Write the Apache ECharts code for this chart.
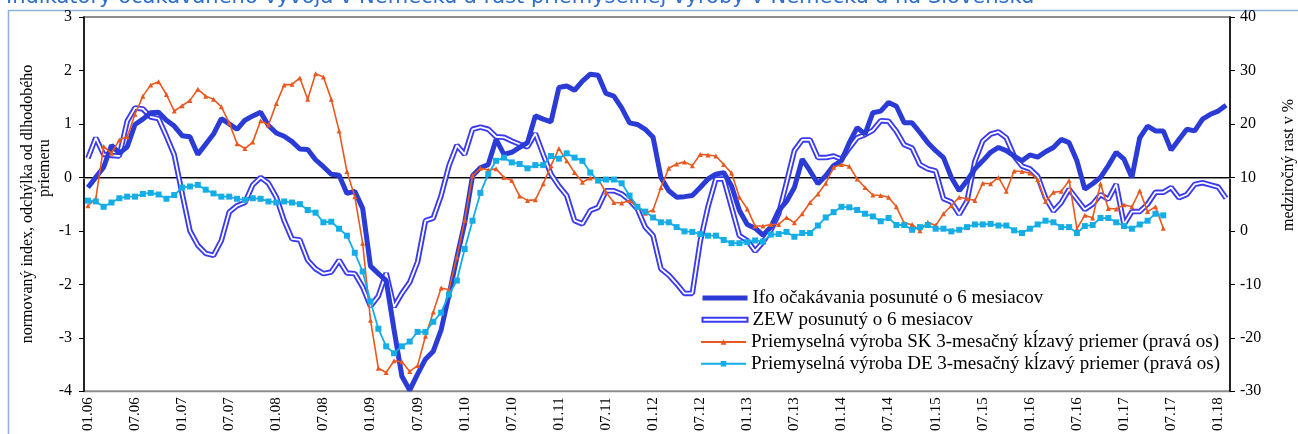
<!DOCTYPE html>
<html>
<head>
<meta charset="utf-8">
<title>Indikátory očakávaného vývoja</title>
<script src="https://cdn.jsdelivr.net/npm/echarts@6.0.0/dist/echarts.min.js"></script>
<style>
html, body { margin: 0; padding: 0; background: #fff; }
#chart { width: 1298px; height: 434px; }
</style>
</head>
<body>
<div id="chart"></div>
<script>
// mesiace 01.06 .. 02.18
const months = []
for (let y = 6; y <= 18; y++) {
  for (let m = 1; m <= 12; m++) {
    if (y === 18 && m > 2) break
    months.push(String(m).padStart(2, '0') + '.' + String(y).padStart(2, '0'))
  }
}

// ľavá os – normovaný index
const ifo = [
  -0.19, 0.0, 0.19, 0.6, 0.45, 0.57, 0.99, 1.09, 1.21, 1.22, 1.07, 0.96,
  0.78, 0.76, 0.43, 0.62, 0.81, 1.1, 1.0, 0.9, 1.07, 1.15, 1.22, 0.97,
  0.83, 0.77, 0.67, 0.53, 0.52, 0.33, 0.2, 0.06, 0.04, -0.3, -0.26, -0.58,
  -1.66, -1.8, -1.93, -2.85, -3.72, -3.98, -3.68, -3.4, -3.25, -2.85, -2.2, -1.5,
  -0.85, 0.03, 0.18, 0.24, 0.71, 0.43, 0.47, 0.56, 0.65, 1.15, 1.09, 1.04,
  1.68, 1.71, 1.63, 1.8, 1.93, 1.91, 1.57, 1.52, 1.3, 1.02, 0.99, 0.9,
  0.75, 0.0, -0.25, -0.37, -0.36, -0.34, -0.19, -0.03, 0.06, 0.09, -0.16, -0.62,
  -0.88, -0.95, -1.08, -0.93, -0.62, -0.45, -0.19, 0.34, 0.12, -0.12, 0.03, 0.22,
  0.31, 0.65, 0.93, 0.81, 1.21, 1.24, 1.4, 1.33, 1.02, 1.02, 0.84, 0.65,
  0.5, 0.37, 0.0, -0.25, -0.06, 0.16, 0.31, 0.47, 0.56, 0.5, 0.4, 0.31,
  0.42, 0.38, 0.48, 0.56, 0.71, 0.65, 0.31, -0.22, -0.12, 0.0, 0.22, 0.47,
  0.34, 0.0, 0.74, 0.96, 0.87, 0.87, 0.51, 0.71, 0.9, 0.87, 1.09, 1.18,
  1.24, 1.35
]
const zew = [
  0.36, 0.74, 0.43, 0.41, 0.4, 1.05, 1.3, 1.28, 1.13, 1.1, 0.77, 0.42,
  -0.3, -1.0, -1.27, -1.42, -1.46, -1.18, -0.65, -0.53, -0.47, -0.14, 0.0, -0.11,
  -0.37, -0.81, -1.15, -1.17, -1.55, -1.71, -1.8, -1.77, -1.55, -1.79, -1.8, -2.05,
  -2.41, -2.22, -1.79, -2.42, -2.17, -1.96, -1.58, -0.81, -0.76, -0.34, 0.22, 0.6,
  0.43, 0.9, 0.94, 0.9, 0.76, 0.75, 0.68, 0.62, 0.57, 0.82, 0.43, 0.06,
  -0.16, -0.34, -0.81, -0.87, -0.62, -0.56, -0.25, -0.25, -0.31, -0.43, -0.59, -0.93,
  -1.09, -1.71, -1.83, -1.99, -2.17, -2.17, -1.2, -0.55, -0.03, -0.03, -0.56, -1.09,
  -1.18, -1.38, -1.21, -0.99, -0.68, -0.1, 0.5, 0.7, 0.7, 0.37, 0.37, 0.4,
  0.34, 0.55, 0.74, 0.8, 0.88, 1.06, 1.05, 0.86, 0.61, 0.55, 0.24, 0.16,
  0.12, -0.4, -0.46, -0.69, -0.44, 0.3, 0.68, 0.81, 0.85, 0.74, 0.4, 0.21,
  0.16, 0.02, -0.38, -0.63, -0.47, -0.22, -0.41, -0.6, -0.5, -0.32, -0.41, -0.13,
  -0.88, -0.64, -0.64, -0.5, -0.28, -0.28, -0.19, -0.38, -0.32, -0.13, -0.1, -0.14,
  -0.18, -0.39
]

// pravá os – medziročný rast v %
const ipSK = [
  4.7, 6.0, 15.8, 14.5, 17.0, 17.6, 21.8, 25.2, 27.3, 27.9, 25.5, 22.4,
  23.4, 24.4, 26.5, 25.2, 24.6, 23.2, 20.2, 16.3, 15.4, 16.6, 20.6, 19.8,
  23.8, 27.3, 27.4, 28.6, 24.6, 29.4, 28.8, 24.6, 18.7, 11.1, 6.4, -2.3,
  -16.7, -25.7, -26.5, -24.3, -24.5, -26.3, -25.2, -19.7, -15.2, -10.7, -11.0, -4.9,
  2.0, 10.3, 11.7, 11.4, 11.6, 10.0, 9.4, 6.5, 5.7, 5.8, 8.8, 12.2,
  15.4, 13.1, 10.9, 9.1, 9.9, 9.7, 7.2, 5.3, 5.2, 5.7, 4.4, 3.3,
  3.9, 8.1, 11.7, 12.5, 12.9, 12.2, 14.3, 14.2, 14.0, 12.4, 10.8, 6.3,
  4.1, 0.9, 0.9, 1.2, 1.2, 2.5, 1.5, 3.2, 5.3, 6.9, 8.9, 11.9,
  12.4, 12.1, 9.7, 8.1, 6.7, 6.6, 6.3, 4.5, 1.4, 1.2, 0.0, 1.6,
  1.0, 3.2, 4.7, 6.3, 6.0, 5.7, 8.9, 8.8, 10.0, 7.4, 11.2, 11.1,
  10.8, 9.6, 5.5, 7.2, 7.4, 9.4, 0.4, 2.9, 2.4, 8.8, 4.2, 4.1,
  4.9, 4.5, 7.5, 3.6, 4.5, 0.5
]
const ipDE = [
  5.65, 5.5, 4.5, 5.3, 6.1, 6.4, 6.4, 6.9, 7.1, 6.8, 6.0, 6.7,
  8.1, 8.3, 8.6, 7.7, 7.0, 6.4, 6.4, 6.0, 5.8, 6.1, 6.0, 5.5,
  5.3, 5.5, 5.3, 5.0, 3.9, 3.4, 1.6, 1.7, 0.4, -0.9, -4.1, -7.6,
  -13.2, -18.3, -21.6, -22.9, -21.6, -20.7, -18.9, -18.9, -17.0, -15.3, -11.9, -9.3,
  -3.4, 1.9, 7.1, 10.6, 13.1, 13.7, 12.8, 12.5, 11.7, 12.3, 12.3, 14.0,
  13.5, 14.5, 13.7, 13.1, 10.9, 9.4, 9.6, 9.6, 8.9, 6.6, 4.5, 3.6,
  2.5, 1.6, 1.6, 0.7, -0.1, -0.2, -0.6, -0.9, -0.9, -1.7, -2.3, -2.3,
  -2.1, -1.8, -2.0, -0.7, -0.6, -0.2, -1.1, -0.4, -0.4, 1.0, 2.5, 3.5,
  4.5, 4.4, 3.9, 3.2, 2.7, 1.8, 2.4, 1.1, 1.1, 0.2, 0.7, 1.1,
  0.4, 0.4, -0.1, 0.2, 0.7, 1.2, 1.2, 1.3, 1.0, 1.0, 0.1, -0.4,
  0.4, 1.2, 1.9, 1.6, 0.7, 0.7, -0.4, 0.9, 1.1, 2.4, 2.4, 1.6,
  0.9, 0.4, 1.2, 1.9, 3.2, 2.9
]

const names = [
  'Ifo očakávania posunuté o 6 mesiacov',
  'ZEW posunutý o 6 mesiacov',
  'Priemyselná výroba SK 3-mesačný kĺzavý priemer (pravá os)',
  'Priemyselná výroba DE 3-mesačný kĺzavý priemer (pravá os)'
]

const BLUE = '#2b3bd6'
const ZEW_BLUE = '#3a3af0'
const ORANGE = '#e8581f'
const CYAN = '#15ade6'
const SERIF = '"Liberation Serif", "Times New Roman", serif'

const chart = echarts.init(document.getElementById('chart'), null, { renderer: 'canvas' })

const axisText = { color: '#000', fontFamily: SERIF, fontSize: 16 }
const legendText = { color: '#000', fontFamily: SERIF, fontSize: 19, lineHeight: 21 }

chart.setOption({
  animation: false,
  backgroundColor: '#fff',
  grid: {
    left: 84, right: 68, top: 17, bottom: 41,
    show: true, borderColor: '#8c8c8c', borderWidth: 2
  },
  legend: [
    {
      orient: 'vertical', left: 700, top: 287.5, padding: 0,
      itemWidth: 45, itemHeight: 4, itemGap: 0.7,
      textStyle: legendText,
      data: [
        { name: names[0], itemStyle: { opacity: 0 }, lineStyle: { width: 5 } },
        { name: names[1], icon: 'rect', itemStyle: { color: '#fff', borderColor: ZEW_BLUE, borderWidth: 2 } }
      ]
    },
    {
      orient: 'vertical', left: 700, top: 331.5, padding: 0,
      itemWidth: 45, itemHeight: 7, itemGap: 0.7,
      textStyle: legendText,
      data: [names[2], names[3]]
    }
  ],
  xAxis: {
    type: 'category',
    data: months,
    boundaryGap: true,
    axisLine: { lineStyle: { color: '#8c8c8c', width: 2 } },
    axisTick: { show: false },
    axisLabel: { ...axisText, fontSize: 15, rotate: 90, interval: 5, margin: 6 },
    splitLine: { show: false }
  },
  yAxis: [
    {
      type: 'value', min: -4, max: 3, interval: 1,
      axisLine: { show: true, lineStyle: { color: '#000', width: 1.5 } },
      axisTick: { show: true, length: 5, lineStyle: { color: '#000' } },
      axisLabel: { ...axisText, margin: 12 },
      splitLine: { show: false }
    },
    {
      type: 'value', min: -30, max: 40, interval: 10, position: 'right',
      axisLine: { show: true, lineStyle: { color: '#000', width: 1.5 } },
      axisTick: { show: true, length: 5, lineStyle: { color: '#000' } },
      axisLabel: { ...axisText, margin: 10 },
      splitLine: { show: false }
    }
  ],
  series: [
    {
      name: names[0], type: 'line', yAxisIndex: 0, data: ifo,
      symbol: 'none', color: BLUE,
      lineStyle: { color: BLUE, width: 5 },
      markLine: {
        silent: true, symbol: 'none', z: 1,
        label: { show: false },
        lineStyle: { color: '#000', width: 1.2, type: 'solid' },
        data: [{ yAxis: 0 }]
      },
      z: 3
    },
    {
      name: names[1], type: 'line', yAxisIndex: 0, data: zew,
      symbol: 'none', color: ZEW_BLUE,
      lineStyle: { color: ZEW_BLUE, width: 5.5 },
      z: 2
    },
    {
      name: 'zew-inner', type: 'line', yAxisIndex: 0, data: zew,
      symbol: 'none', color: '#fff',
      lineStyle: { color: '#fff', width: 1.8 },
      z: 2
    },
    {
      name: names[2], type: 'line', yAxisIndex: 1, data: ipSK,
      symbol: 'triangle', symbolSize: 5, showAllSymbol: true, color: ORANGE,
      lineStyle: { color: ORANGE, width: 1.6 },
      itemStyle: { color: ORANGE },
      z: 4
    },
    {
      name: names[3], type: 'line', yAxisIndex: 1, data: ipDE,
      symbol: 'rect', symbolSize: 6, showAllSymbol: true, color: CYAN,
      lineStyle: { color: CYAN, width: 1.8 },
      itemStyle: { color: CYAN },
      z: 5
    }
  ],
  graphic: [
    {
      type: 'rect', silent: true, z: -10,
      shape: { x: 8.5, y: 10.5, width: 1400, height: 500 },
      style: { fill: 'none', stroke: '#8fb1dd', lineWidth: 1.5 }
    },
    {
      type: 'text', x: 6, y: -2, silent: true,
      style: {
        text: 'Indikátory očakávaného vývoja v Nemecku a rast priemyselnej výroby v Nemecku a na Slovensku',
        fill: '#2f6fca', font: '21px "DejaVu Sans", sans-serif',
        textAlign: 'left', textVerticalAlign: 'middle'
      }
    },
    {
      type: 'text', x: 28, y: 204, rotation: Math.PI / 2, silent: true,
      style: {
        text: 'normovaný index, odchýlka od dlhodobého',
        fill: '#000', font: '16px "Liberation Serif", serif',
        textAlign: 'center', textVerticalAlign: 'middle'
      }
    },
    {
      type: 'text', x: 45, y: 168, rotation: Math.PI / 2, silent: true,
      style: {
        text: 'priemeru',
        fill: '#000', font: '16px "Liberation Serif", serif',
        textAlign: 'center', textVerticalAlign: 'middle'
      }
    },
    {
      type: 'text', x: 1289, y: 165, rotation: Math.PI / 2, silent: true,
      style: {
        text: 'medziročný rast v %',
        fill: '#000', font: '16px "Liberation Serif", serif',
        textAlign: 'center', textVerticalAlign: 'middle'
      }
    }
  ]
})
</script>
</body>
</html>
